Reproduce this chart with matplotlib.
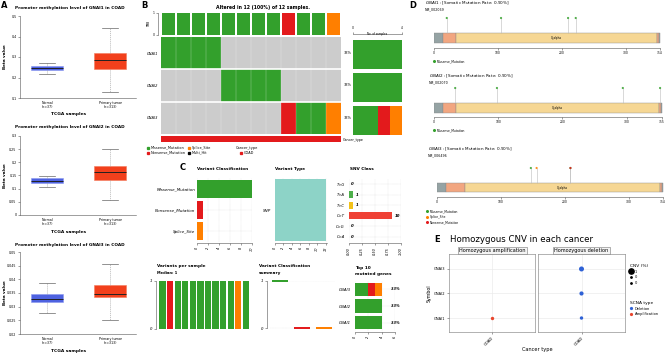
import matplotlib
matplotlib.use('Agg')
import matplotlib.pyplot as plt
import numpy as np
from matplotlib.colors import ListedColormap
from matplotlib.lines import Line2D

# ---------------- data ----------------
# A: promoter methylation (whislo, q1, median, q3, whishi)
meth_genes = ['GNAI1', 'GNAI2', 'GNAI3']
meth_groups = ['Normal\n(n=37)', 'Primary tumor\n(n=313)']
meth_normal = [[0.218, 0.239, 0.244, 0.258, 0.270],
               [0.105, 0.120, 0.131, 0.141, 0.149],
               [0.0278, 0.0317, 0.0329, 0.0348, 0.0388]]
meth_tumor = [[0.131, 0.240, 0.287, 0.320, 0.440],
              [0.057, 0.132, 0.164, 0.185, 0.251],
              [0.0250, 0.0335, 0.0348, 0.0378, 0.0455]]
meth_ylim = [(0.1, 0.5), (0.0, 0.3), (0.02, 0.05)]
meth_step = [0.1, 0.05, 0.005]

# B: oncoplot
vc_names = ['Missense_Mutation', 'Nonsense_Mutation', 'Splice_Site', 'Multi_Hit']
onco_genes = ['GNAI1', 'GNAI2', 'GNAI3']
gnai1_calls = ['Missense_Mutation'] * 4 + [''] * 8
gnai2_calls = [''] * 4 + ['Missense_Mutation'] * 4 + [''] * 4
gnai3_calls = [''] * 8 + ['Nonsense_Mutation', 'Missense_Mutation',
                          'Missense_Mutation', 'Splice_Site']
sample_tmb = [1] * 12
cancer_type = 'COAD'

# C: maf summary
vc_counts = [10, 1, 1]
vt_names = ['SNP']
vt_counts = [12]
snv_classes = ['T>G', 'T>A', 'T>C', 'C>T', 'C>G', 'C>A']
snv_counts = [0, 1, 1, 10, 0, 0]
per_sample_class = (['Missense_Mutation', 'Nonsense_Mutation'] + ['Missense_Mutation'] * 8
                    + ['Splice_Site', 'Missense_Mutation'])
per_sample_n = [1] * 12

# D: lollipops
lol_genes = ['GNAI1', 'GNAI2', 'GNAI3']
lol_len = [354, 355, 354]
lol_nm = ['NM_002069', 'NM_002070', 'NM_006496']
lol_rate = ['0.90%', '0.90%', '0.90%']
lol_pos = [[20, 105, 210, 222], [33, 98, 294, 352], [147, 156, 209, 209]]
lol_type = [['Missense_Mutation'] * 4, ['Missense_Mutation'] * 4,
            ['Missense_Mutation', 'Splice_Site', 'Missense_Mutation', 'Nonsense_Mutation']]
dom_start = [[0, 14, 34, 349, 352], [0, 14, 34, 350, 353], [0, 14, 44, 349, 352]]
dom_end = [[14, 34, 349, 352, 354], [14, 34, 350, 353, 355], [14, 44, 349, 352, 354]]
dom_kind = ['other', 'linker', 'G_alpha', 'linker', 'other']

# E: homozygous CNV
cnv_genes = ['GNAI1', 'GNAI2', 'GNAI3']
amp_pct = [0.3, 0.0, 0.0]
del_pct = [0.3, 0.6, 1.0]

# ---------------- style ----------------
vc_col = {'Missense_Mutation': '#33a02c', 'Nonsense_Mutation': '#e31a1c',
          'Splice_Site': '#ff7f00', 'Multi_Hit': '#000000', '': '#cccccc'}
dom_col = {'other': '#95a3a4', 'linker': '#f2a680', 'G_alpha': '#f6d794'}
snv_col = {'T>G': '#377eb8', 'T>A': '#4daf4a', 'T>C': '#f2c11a',
           'C>T': '#ef4135', 'C>G': '#984ea3', 'C>A': '#a65628'}
W, H = 669, 355
fig = plt.figure(figsize=(W / 100, H / 100), dpi=100)


def px_axes(x0, y0, x1, y1):
    return fig.add_axes([x0 / W, 1 - y1 / H, (x1 - x0) / W, (y1 - y0) / H])


def ftext(x, y, s, **kw):
    kw.setdefault('va', 'center')
    return fig.text(x / W, 1 - y / H, s, **kw)


def clean(ax, keep=()):
    for k, sp in ax.spines.items():
        sp.set_visible(k in keep)
        sp.set_linewidth(0.4)
        sp.set_color('#555555')
    ax.tick_params(width=0.4, length=1.5, pad=1, labelsize=2.6, color='#555555')


for lab, (x, y) in zip('ABCDE', [(4, 5), (144, 5), (183, 167), (413, 6), (437, 239)]):
    ftext(x, y, lab, fontsize=6, fontweight='bold', ha='center')

# ---------------- A ----------------
a_rows = [(16, 98, 8, 114), (136, 215, 127, 232), (252, 334, 245, 351)]
for i, g in enumerate(meth_genes):
    y0, y1, ty, xy = a_rows[i]
    ax = px_axes(20, y0, 136, y1)
    stats = []
    for vals, lab in zip([meth_normal[i], meth_tumor[i]], meth_groups):
        lo, q1, med, q3, hi = vals
        stats.append(dict(whislo=lo, q1=q1, med=med, q3=q3, whishi=hi, label=lab))
    bp = ax.bxp(stats, positions=[1, 2], widths=0.5, patch_artist=True, showfliers=False,
                whiskerprops=dict(ls=(0, (2, 1.5)), lw=0.4, color='#999999'),
                capprops=dict(lw=0.5, color='#666666'),
                medianprops=dict(color='#222222', lw=0.7))
    for patch, fc, ec in zip(bp['boxes'], ['#4e62e0', '#f2401c'], ['#8b98f0', '#f47a5c']):
        patch.set_facecolor(fc)
        patch.set_edgecolor(ec)
        patch.set_linewidth(0.4)
    ax.set_xlim(0.57, 2.41)
    ax.set_ylim(*meth_ylim[i])
    lo, hi = meth_ylim[i]
    ax.set_yticks(np.arange(lo, hi + meth_step[i] / 2, meth_step[i]))
    ax.yaxis.set_major_formatter(plt.FuncFormatter(lambda v, p: '%g' % round(v, 4)))
    clean(ax, ('left', 'bottom'))
    ax.tick_params(axis='x', length=0, labelsize=2.3, pad=2)
    ax.tick_params(axis='y', labelsize=2.3)
    ftext(70, ty, f'Promoter methylation level of {g} in COAD', fontsize=3.1,
          fontweight='bold', ha='center')
    ftext(69, xy, 'TCGA samples', fontsize=3.2, fontweight='bold', ha='center')
    ftext(5, (y0 + y1) / 2, 'Beta value', fontsize=3.0, fontweight='bold',
          ha='center', rotation=90)

# ---------------- B ----------------
call_rows = [gnai1_calls, gnai2_calls, gnai3_calls]
n_samples = len(gnai1_calls)
code = {'': 0, 'Missense_Mutation': 1, 'Nonsense_Mutation': 2, 'Splice_Site': 3}
mat = np.array([[code[c] for c in row] for row in call_rows])
cmap = ListedColormap([vc_col[''], vc_col['Missense_Mutation'],
                       vc_col['Nonsense_Mutation'], vc_col['Splice_Site']])
axm = px_axes(161, 37, 341, 134)
axm.pcolormesh(np.arange(n_samples + 1) - 0.5, np.arange(len(onco_genes) + 1) - 0.5, mat,
               cmap=cmap, vmin=-0.5, vmax=3.5, edgecolors='face', linewidth=0,
               antialiased=False)
for xb in np.arange(0.5, n_samples - 0.5):
    axm.axvline(xb, color='white', lw=0.35, alpha=0.45)
for yb in [0.5, 1.5]:
    axm.axhline(yb, color='white', lw=1.2)
axm.set_xlim(-0.5, n_samples - 0.5)
axm.set_ylim(len(onco_genes) - 0.5, -0.5)
clean(axm)
axm.set_xticks([])
axm.set_yticks(range(len(onco_genes)))
axm.set_yticklabels(onco_genes, fontstyle='italic', fontsize=2.6)
axm.tick_params(axis='y', length=0, pad=2)
for i, row in enumerate(call_rows):
    pct = 100 * sum(1 for c in row if c) / n_samples
    axm.text(n_samples - 0.35, i, '%d%%' % round(pct), fontsize=2.5, va='center',
             ha='left', clip_on=False)

sample_class = [next(r[j] for r in call_rows if r[j]) for j in range(n_samples)]
axt = px_axes(161, 13, 341, 35)
axt.bar(range(n_samples), sample_tmb, width=0.87,
        color=[vc_col[c] for c in sample_class])
axt.set_xlim(-0.5, n_samples - 0.5)
axt.set_ylim(0, 1)
clean(axt, ('left',))
axt.spines['left'].set_position(('outward', 2))
axt.set_xticks([])
axt.set_yticks([0, 1])
axt.tick_params(labelsize=2.2)
axt.set_ylabel('TMB', fontsize=2.2, labelpad=1)
ftext(263, 7, 'Altered in 12 (100%) of 12 samples.', fontsize=3.3, fontweight='bold',
      ha='center')

axc = px_axes(161, 136, 341, 142)
axc.barh([0], [n_samples], left=-0.5, height=1, color=vc_col['Nonsense_Mutation'])
axc.set_xlim(-0.5, n_samples - 0.5)
axc.set_ylim(-0.5, 0.5)
clean(axc)
axc.set_xticks([])
axc.set_yticks([])
ftext(343, 140, 'Cancer_type', fontsize=2.4, ha='left')

axr = px_axes(353, 38, 402, 137)
left = np.zeros(len(onco_genes))
for vc in vc_names[:3]:
    cnt = np.array([sum(1 for c in row if c == vc) for row in call_rows])
    axr.barh(range(len(onco_genes)), cnt, left=left, height=0.88, color=vc_col[vc])
    left += cnt
axr.set_xlim(0, 4)
axr.set_ylim(len(onco_genes) - 0.5, -0.5)
clean(axr, ('top',))
axr.spines['top'].set_position(('outward', 3))
axr.xaxis.tick_top()
axr.set_xticks([0, 4])
axr.set_yticks([])
axr.tick_params(labelsize=2.2)
axr.text(2, -0.62, 'No. of samples', fontsize=2.0, ha='center', va='center')

hb = [Line2D([], [], marker='s', ls='', ms=1.4, color=vc_col[v]) for v in vc_names]
leg = fig.legend(hb, vc_names, ncol=2, loc='upper left', bbox_to_anchor=(145 / W, 1 - 144 / H),
                 frameon=False, fontsize=2.5, handlelength=0.6, handletextpad=0.4,
                 labelspacing=0.3, columnspacing=0.8, borderpad=0)
hc = [Line2D([], [], marker='s', ls='', ms=1.4, color=vc_col['Nonsense_Mutation'])]
fig.legend(hc, [cancer_type], loc='upper left', bbox_to_anchor=(234 / W, 1 - 144 / H),
           frameon=False, fontsize=2.5, title='Cancer_type', title_fontsize=2.5,
           handlelength=0.6, handletextpad=0.4, borderpad=0, labelspacing=0.3)

# ---------------- C ----------------
def c_axes(x0, y0, x1, y1):
    ax = px_axes(x0, y0, x1, y1)
    clean(ax, ('bottom',))
    ax.spines['bottom'].set_position(('outward', 1))
    ax.grid(True, ls=':', lw=0.3, color='#cccccc')
    ax.set_axisbelow(True)
    ax.tick_params(axis='x', labelrotation=90, labelsize=2.5)
    ax.tick_params(axis='y', length=0, labelsize=3.0)
    for t in ax.get_xticklabels() + ax.get_yticklabels():
        t.set_fontstyle('italic')
    return ax


ax = c_axes(197, 178, 252, 242)
ax.barh(range(3), vc_counts, height=0.85, color=[vc_col[v] for v in vc_names[:3]])
ax.set_ylim(2.5, -0.5)
ax.set_xlim(0, 10)
ax.set_xticks(range(0, 11, 2))
ax.set_yticks(range(3))
ax.set_yticklabels(vc_names[:3], fontstyle='italic')
ax.set_xticklabels([str(v) for v in range(0, 11, 2)], fontstyle='italic')
ftext(197, 169, 'Variant Classification', fontsize=3.1, fontweight='bold', ha='left')

ax = c_axes(275, 178, 327, 242)
ax.barh(range(len(vt_names)), vt_counts, height=0.96, color='#8dd3c7')
ax.set_ylim(0.5, -0.5)
ax.set_xlim(0, 12.3)
ax.set_xticks(range(0, 13, 2))
ax.set_yticks(range(len(vt_names)))
ax.set_yticklabels(vt_names, fontstyle='italic')
ax.tick_params(axis='y', pad=3)
ax.set_xticklabels([str(v) for v in range(0, 13, 2)], fontstyle='italic')
ftext(275, 169, 'Variant Type', fontsize=3.1, fontweight='bold', ha='left')

ax = c_axes(349, 179, 401, 242)
snv_frac = np.array(snv_counts) / sum(snv_counts)
ax.barh(range(len(snv_classes)), snv_frac, height=0.65,
        color=[snv_col[s] for s in snv_classes])
for i, (f, n) in enumerate(zip(snv_frac, snv_counts)):
    ax.text(f + 0.04, i, str(n), fontsize=2.8, fontweight='bold', fontstyle='italic',
            va='center', ha='left')
ax.set_ylim(len(snv_classes) - 0.5, -0.5)
ax.set_xlim(0, 1)
ax.set_xticks([0, 0.25, 0.5, 0.75, 1.0])
ax.set_xticklabels(['0.00', '0.25', '0.50', '0.75', '1.00'], fontstyle='italic')
ax.set_yticks(range(len(snv_classes)))
ax.set_yticklabels(snv_classes, fontstyle='italic', fontsize=2.7)
ax.tick_params(axis='y', pad=3)
ftext(350, 169, 'SNV Class', fontsize=3.1, fontweight='bold', ha='left')

# variants per sample
ax = px_axes(158, 281, 250, 329)
ax.bar(range(len(per_sample_n)), per_sample_n, width=0.82,
       color=[vc_col[c] for c in per_sample_class])
ax.set_xlim(-0.6, len(per_sample_n) - 0.45)
ax.set_ylim(0, 1)
clean(ax, ('left',))
ax.spines['left'].set_position(('outward', 1.5))
ax.set_xticks([])
ax.set_yticks([0, 1])
ax.set_yticklabels(['0', '1'], fontstyle='italic')
ax.tick_params(labelsize=2.8)
ftext(157, 266, 'Variants per sample', fontsize=3.1, fontweight='bold', ha='left')
ftext(157, 273, 'Median: 1', fontsize=2.6, fontweight='bold', ha='left')

# variant classification summary
ax = px_axes(270, 281, 335, 329)
per_vc = [[1 if c == vc else 0 for c in per_sample_class] for vc in vc_names[:3]]
bp = ax.boxplot(per_vc, positions=[1, 2, 3], widths=0.7, showfliers=False,
                patch_artist=True)
for k, vc in enumerate(vc_names[:3]):
    for part in ('boxes', 'medians'):
        bp[part][k].set_color(vc_col[vc])
        bp[part][k].set_linewidth(1.3)
        bp[part][k].set_clip_on(False)
    for part in ('whiskers', 'caps'):
        for a in bp[part][2 * k:2 * k + 2]:
            a.set_visible(False)
ax.set_xlim(0.55, 3.5)
ax.set_ylim(-0.02, 1.0)
clean(ax, ('left',))
ax.spines['left'].set_position(('outward', 2))
ax.spines['left'].set_bounds(0, 1)
ax.grid(True, ls=':', lw=0.3, color='#dddddd')
ax.set_xticks([])
ax.set_yticks([0, 1])
ax.set_yticklabels(['0', '1'], fontstyle='italic')
ax.tick_params(labelsize=2.8)
ftext(259, 266, 'Variant Classification', fontsize=3.1, fontweight='bold', ha='left')
ftext(259, 273, 'summary', fontsize=3.1, fontweight='bold', ha='left')

# top mutated genes
ax = c_axes(355, 281, 395, 331)
top_order = [2, 1, 0]
left = np.zeros(len(top_order))
for vc in vc_names[:3]:
    cnt = np.array([sum(1 for c in call_rows[g] if c == vc) for g in top_order])
    ax.barh(range(len(top_order)), cnt, left=left, height=0.8, color=vc_col[vc])
    left += cnt
for i, g in enumerate(top_order):
    pct = 100 * sum(1 for c in call_rows[g] if c) / n_samples
    ax.text(6.1, i, '%d%%' % round(pct), fontsize=2.6, fontweight='bold',
            fontstyle='italic', va='center', ha='center')
ax.set_ylim(len(top_order) - 0.5, -0.5)
ax.set_xlim(0, 6)
ax.set_xticks([0, 2, 4, 6])
ax.set_xticklabels(['0', '2', '4', '6'], fontstyle='italic')
ax.set_yticks(range(len(top_order)))
ax.set_yticklabels([onco_genes[g] for g in top_order], fontstyle='italic', fontsize=2.8)
ax.tick_params(axis='y', pad=3)
ftext(355, 268, 'Top 10', fontsize=3.1, fontweight='bold', ha='left')
ftext(355, 274, 'mutated genes', fontsize=3.1, fontweight='bold', ha='left')

# ---------------- D ----------------
d_layout = [(434, 660, 18, 33, 43, 48, 425, 3, 432, 58),
            (434, 662, 88, 103, 113, 117, 429, 76, 432, 127),
            (437, 663, 168, 183, 192, 197, 428, 149, 425, 208)]
for i, g in enumerate(lol_genes):
    x0, x1, yh, yb0, yb1, ya, tx, ty, lx, ly = d_layout[i]
    ax = px_axes(x0, yh - 5, x1, ya)
    ax.set_xlim(0, lol_len[i])
    ax.set_ylim(ya, yh - 5)
    for s, e, k in zip(dom_start[i], dom_end[i], dom_kind):
        ax.broken_barh([(s, e - s)], (yb0, yb1 - yb0), facecolors=dom_col[k],
                       edgecolors='#8a8a8a', linewidth=0.3)
    ax.text((dom_start[i][2] + dom_end[i][2]) / 2, (yb0 + yb1) / 2, 'G_alpha',
            fontsize=2.0, ha='center', va='center')
    ax.vlines(lol_pos[i], yh, yb0, color='#bbbbbb', lw=0.4)
    ax.scatter(lol_pos[i], [yh] * len(lol_pos[i]), s=2.5, zorder=3, linewidths=0,
               c=[vc_col[t] for t in lol_type[i]], alpha=0.85)
    clean(ax, ('bottom',))
    ax.set_xticks([0, 100, 200, 300, lol_len[i]])
    ax.set_yticks([])
    ax.tick_params(labelsize=2.2)
    ftext(tx, ty, f'$\\it{{{g}}}$ : [Somatic Mutation Rate: {lol_rate[i]}]', fontsize=3.0,
          ha='left')
    ftext(tx, ty + 6, lol_nm[i], fontsize=2.3, ha='left')
    kinds = list(dict.fromkeys(lol_type[i]))
    if i == 2:
        kinds = ['Missense_Mutation', 'Splice_Site', 'Nonsense_Mutation']
    hd = [Line2D([], [], marker='o', ls='', ms=1.2, color=vc_col[k]) for k in kinds]
    fig.legend(hd, kinds, loc='upper left', bbox_to_anchor=(lx / W, 1 - ly / H),
               frameon=False, fontsize=2.2, handlelength=0.5, handletextpad=0.4,
               labelspacing=0.4, borderpad=0)

# ---------------- E ----------------
ftext(450, 240, 'Homozygous CNV in each cancer', fontsize=6.2, ha='left')
e_panels = [(449, 535, 'Homozygous amplification', amp_pct, '#e8452c'),
            (538, 625, 'Homozygous deletion', del_pct, '#2f62d6')]
yy = np.arange(1, len(cnv_genes) + 1)
for k, (x0, x1, strip, vals, col) in enumerate(e_panels):
    ax = px_axes(x0, 254, x1, 332)
    v = np.array(vals)
    m = v > 0
    ax.scatter(np.ones(m.sum()), yy[m], s=3 + 10 * v[m], color=col, linewidths=0, zorder=3)
    ax.set_xlim(0.4, 1.6)
    ax.set_ylim(0.43, 3.61)
    ax.grid(True, color='#ebebeb', lw=0.5)
    for sp in ax.spines.values():
        sp.set_color('#777777')
        sp.set_linewidth(0.4)
    ax.tick_params(width=0.4, length=1.5, pad=1, labelsize=2.6, color='#555555')
    ax.set_xticks([1])
    ax.set_xticklabels(['COAD'], rotation=45, ha='right', rotation_mode='anchor',
                       fontsize=2.8)
    ax.set_yticks(yy)
    if k == 0:
        ax.set_yticklabels(cnv_genes, fontsize=2.6)
        ax.set_ylabel('Symbol', fontsize=3.4, labelpad=2)
    else:
        ax.set_yticklabels([])
        ax.tick_params(axis='y', length=0)
    ax.set_title(strip, fontsize=3.6, pad=1.5,
                 bbox=dict(facecolor='#f4f4f4', edgecolor='#777777', lw=0.4,
                           boxstyle='square,pad=0.25'))
ftext(537, 349, 'Cancer type', fontsize=3.6, ha='center')
hs = [Line2D([], [], marker='o', ls='', ms=ms, color='black') for ms in [3.8, 1.0, 1.0]]
fig.legend(hs, ['1', '0', '0'], loc='upper left', bbox_to_anchor=(628 / W, 1 - 262 / H),
           frameon=False, fontsize=2.6, title='CNV (%)', title_fontsize=3.2,
           handlelength=0.8, handletextpad=0.5, labelspacing=0.5, borderpad=0,
           alignment='left')
ht = [Line2D([], [], marker='o', ls='', ms=1.3, color=c) for c in ['#2f62d6', '#e8452c']]
fig.legend(ht, ['Deletion', 'Amplification'], loc='upper left',
           bbox_to_anchor=(628 / W, 1 - 299 / H), frameon=False, fontsize=2.6,
           title='SCNA type', title_fontsize=3.2, handlelength=0.8, handletextpad=0.5,
           labelspacing=0.5, borderpad=0, alignment='left')

fig.savefig('out.png', dpi=100)
